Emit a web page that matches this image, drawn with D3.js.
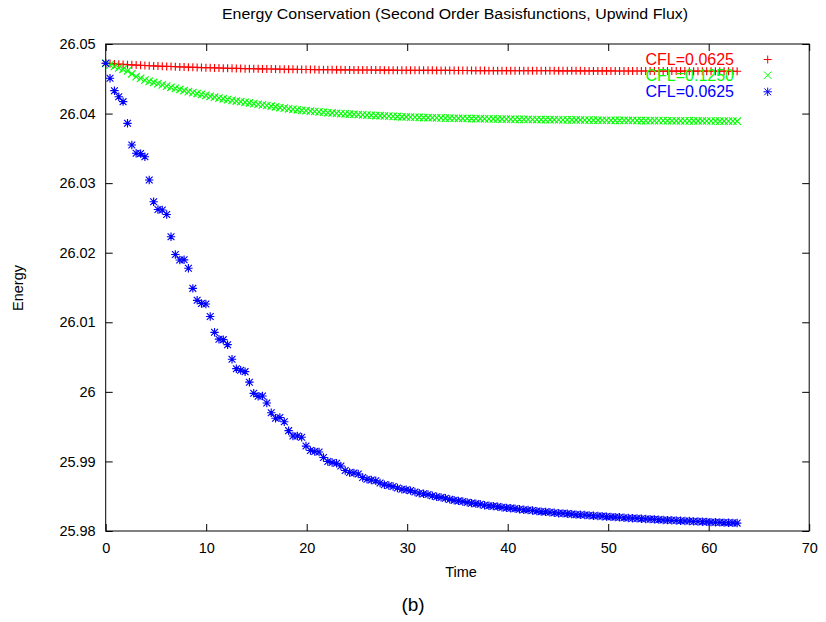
<!DOCTYPE html>
<html>
<head>
<meta charset="utf-8">
<script src="https://cdn.jsdelivr.net/npm/d3@7"></script>
<style>
  html, body { margin: 0; padding: 0; background: #fff; }
  svg { display: block; }
  text { font-family: "Liberation Sans", Arial, Helvetica, sans-serif; fill: #000; }
</style>
</head>
<body>
<svg id="chart" width="826" height="622"></svg>
<script>
// ---------------- data ----------------
const titleText = "Energy Conservation (Second Order Basisfunctions, Upwind Flux)";
const xLabel = "Time";
const yLabel = "Energy";
const caption = "(b)";

const xTicks = [0, 10, 20, 30, 40, 50, 60, 70];
const xTickLabels = ["0", "10", "20", "30", "40", "50", "60", "70"];
const yTicks = [25.98, 25.99, 26.00, 26.01, 26.02, 26.03, 26.04, 26.05];
const yTickLabels = ["25.98", "25.99", "26", "26.01", "26.02", "26.03", "26.04", "26.05"];

const seriesNames = ["CFL=0.0625", "CFL=0.1250", "CFL=0.0625"];
const seriesColors = ["#ff0000", "#00ff00", "#0000ff"];
const seriesSymbols = ["plus", "cross", "star"];

const times = [0, 0.43, 0.87, 1.3, 1.73, 2.17, 2.6, 3.03, 3.47, 3.9, 4.33, 4.77, 5.2, 5.63, 6.07, 6.5, 6.93, 7.37, 7.8, 8.23,
  8.67, 9.1, 9.53, 9.97, 10.4, 10.83, 11.27, 11.7, 12.13, 12.57, 13, 13.43, 13.87, 14.3, 14.73, 15.17, 15.6, 16.03, 16.47, 16.9,
  17.33, 17.77, 18.2, 18.63, 19.07, 19.5, 19.93, 20.37, 20.8, 21.23, 21.67, 22.1, 22.53, 22.97, 23.4, 23.83, 24.27, 24.7, 25.13, 25.57,
  26, 26.43, 26.87, 27.3, 27.73, 28.17, 28.6, 29.03, 29.47, 29.9, 30.33, 30.77, 31.2, 31.63, 32.07, 32.5, 32.93, 33.37, 33.8, 34.23,
  34.67, 35.1, 35.53, 35.97, 36.4, 36.83, 37.27, 37.7, 38.13, 38.57, 39, 39.43, 39.87, 40.3, 40.73, 41.17, 41.6, 42.03, 42.47, 42.9,
  43.33, 43.77, 44.2, 44.63, 45.07, 45.5, 45.93, 46.37, 46.8, 47.23, 47.67, 48.1, 48.53, 48.97, 49.4, 49.83, 50.27, 50.7, 51.13, 51.57,
  52, 52.43, 52.87, 53.3, 53.73, 54.17, 54.6, 55.03, 55.47, 55.9, 56.33, 56.77, 57.2, 57.63, 58.07, 58.5, 58.93, 59.37, 59.8, 60.23,
  60.67, 61.1, 61.53, 61.97, 62.4, 62.83];

const energyRed = [26.04723,
  26.04718, 26.04714, 26.0471, 26.04707, 26.04703,
  26.047, 26.04697, 26.04694, 26.04691, 26.04688,
  26.04685, 26.04683, 26.0468, 26.04678, 26.04676,
  26.04673, 26.04671, 26.04669, 26.04667, 26.04665,
  26.04663, 26.04661, 26.0466, 26.04658, 26.04656,
  26.04655, 26.04653, 26.04652, 26.0465, 26.04649,
  26.04648, 26.04646, 26.04645, 26.04644, 26.04643,
  26.04642, 26.04641, 26.0464, 26.04639, 26.04638,
  26.04637, 26.04636, 26.04636, 26.04635, 26.04634,
  26.04633, 26.04633, 26.04632, 26.04631, 26.04631,
  26.0463, 26.0463, 26.04629, 26.04629, 26.04628,
  26.04628, 26.04627, 26.04627, 26.04626, 26.04626,
  26.04626, 26.04625, 26.04625, 26.04624, 26.04624,
  26.04624, 26.04623, 26.04623, 26.04623, 26.04622,
  26.04622, 26.04622, 26.04621, 26.04621, 26.04621,
  26.0462, 26.0462, 26.0462, 26.0462, 26.04619,
  26.04619, 26.04619, 26.04619, 26.04618, 26.04618,
  26.04618, 26.04618, 26.04617, 26.04617, 26.04617,
  26.04617, 26.04617, 26.04616, 26.04616, 26.04616,
  26.04616, 26.04616, 26.04615, 26.04615, 26.04615,
  26.04615, 26.04615, 26.04615, 26.04614, 26.04614,
  26.04614, 26.04614, 26.04614, 26.04614, 26.04613,
  26.04613, 26.04613, 26.04613, 26.04613, 26.04613,
  26.04613, 26.04612, 26.04612, 26.04612, 26.04612,
  26.04612, 26.04612, 26.04612, 26.04612, 26.04611,
  26.04611, 26.04611, 26.04611, 26.04611, 26.04611,
  26.04611, 26.04611, 26.04611, 26.0461, 26.0461,
  26.0461, 26.0461, 26.0461, 26.0461, 26.0461,
  26.0461, 26.0461, 26.04609, 26.04609, 26.04609];

const energyGreen = [26.04723, 26.047, 26.04677, 26.04657, 26.04636, 26.04614, 26.04572, 26.04531, 26.04506, 26.04481,
  26.04463, 26.04447, 26.0443, 26.04412, 26.04394, 26.04378, 26.04362, 26.04347, 26.04331, 26.04316,
  26.04301, 26.04288, 26.04276, 26.04262, 26.04248, 26.04235, 26.04223, 26.04212, 26.04201, 26.0419,
  26.0418, 26.04171, 26.04162, 26.04153, 26.04143, 26.04134, 26.04125, 26.04116, 26.04106, 26.04097,
  26.04087, 26.04078, 26.04069, 26.04061, 26.04054, 26.04048, 26.04042, 26.04036, 26.0403, 26.04025,
  26.04019, 26.04014, 26.04009, 26.04004, 26.04, 26.03996, 26.03993, 26.0399, 26.03986, 26.03982,
  26.03979, 26.03976, 26.03972, 26.03969, 26.03966, 26.03963, 26.0396, 26.03957, 26.03954, 26.03951,
  26.03949, 26.03947, 26.03945, 26.03943, 26.03941, 26.0394, 26.03938, 26.03937, 26.03935, 26.03934,
  26.03933, 26.03932, 26.0393, 26.03929, 26.03928, 26.03927, 26.03926, 26.03925, 26.03924, 26.03923,
  26.03922, 26.03921, 26.0392, 26.03919, 26.03918, 26.03917, 26.03917, 26.03916, 26.03915, 26.03914,
  26.03914, 26.03913, 26.03912, 26.03912, 26.03911, 26.0391, 26.0391, 26.03909, 26.03908, 26.03908,
  26.03907, 26.03906, 26.03906, 26.03905, 26.03904, 26.03904, 26.03903, 26.03903, 26.03902, 26.03902,
  26.03901, 26.03901, 26.039, 26.039, 26.03899, 26.03899, 26.03899, 26.03898, 26.03898, 26.03897,
  26.03897, 26.03896, 26.03896, 26.03895, 26.03895, 26.03895, 26.03894, 26.03894, 26.03893, 26.03893,
  26.03893, 26.03892, 26.03892, 26.03891, 26.03891, 26.0389];

const energyBlue = [26.04723, 26.04507, 26.04329, 26.04242, 26.04171, 26.0386, 26.03548, 26.03429, 26.03425, 26.0338,
  26.03045, 26.02733, 26.02621, 26.02614, 26.02549, 26.0223, 26.01974, 26.01895, 26.01898, 26.01776,
  26.01488, 26.01316, 26.0127, 26.01263, 26.01083, 26.00856, 26.00757, 26.0075, 26.00678, 26.00469,
  26.00333, 26.0031, 26.0029, 26.00139, 25.99979, 25.99936, 25.9994, 25.9984, 25.997, 25.9962,
  25.99631, 25.99571, 25.99442, 25.99365, 25.99365, 25.99347, 25.99221, 25.99157, 25.99143, 25.99135,
  25.99056, 25.98999, 25.98985, 25.98973, 25.98934, 25.9887, 25.98841, 25.98834, 25.9882, 25.98769,
  25.98743, 25.98733, 25.98722, 25.9869, 25.98664, 25.98654, 25.9864, 25.98618, 25.98601, 25.98592,
  25.98581, 25.98561, 25.98543, 25.98535, 25.98525, 25.98506, 25.98492, 25.98483, 25.98471, 25.98454,
  25.98441, 25.98433, 25.98424, 25.98411, 25.984, 25.98393, 25.98384, 25.98371, 25.98363, 25.98357,
  25.9835, 25.9834, 25.98332, 25.98328, 25.98322, 25.98312, 25.98305, 25.98301, 25.98295, 25.98286,
  25.98279, 25.98275, 25.9827, 25.98262, 25.98256, 25.98253, 25.98249, 25.98242, 25.98236, 25.98233,
  25.9823, 25.98224, 25.98219, 25.98216, 25.98213, 25.98207, 25.98203, 25.982, 25.98197, 25.98191,
  25.98187, 25.98184, 25.98181, 25.98177, 25.98173, 25.9817, 25.98167, 25.98163, 25.98158, 25.98157,
  25.98154, 25.9815, 25.98147, 25.98144, 25.98143, 25.98138, 25.98136, 25.98134, 25.98131, 25.98128,
  25.98126, 25.98124, 25.98121, 25.98119, 25.98117, 25.98114];

const seriesValues = [energyRed, energyGreen, energyBlue];

// ---------------- drawing ----------------
const svg = d3.select("#chart");
svg.append("rect").attr("width", 826).attr("height", 622).attr("fill", "#fff");

const plotLeft = 105.7, plotRight = 809.2, plotTop = 44, plotBottom = 531;
const x = d3.scaleLinear().domain([0, 70]).range([plotLeft, plotRight]);
const y = d3.scaleLinear().domain([25.98, 26.05]).range([plotBottom, plotTop]);

const symbolPaths = {
  plus: "M-4,0H4M0,-4V4",
  cross: "M-3.7,-3.7L3.7,3.7M-3.7,3.7L3.7,-3.7",
  star: "M-4.2,0H4.2M0,-4.2V4.2M-3.4,-3.4L3.4,3.4M-3.4,3.4L3.4,-3.4"
};

// axes (gnuplot style: inward ticks, mirrored)
const tickLen = 7;
const gx = svg.append("g").attr("transform", `translate(0,${plotBottom})`)
  .call(d3.axisBottom(x).tickValues(xTicks).tickFormat((d, i) => xTickLabels[i])
    .tickSizeInner(-tickLen).tickSizeOuter(0).tickPadding(12));
const gy = svg.append("g").attr("transform", `translate(${plotLeft},0)`)
  .call(d3.axisLeft(y).tickValues(yTicks).tickFormat((d, i) => yTickLabels[i])
    .tickSizeInner(-tickLen).tickSizeOuter(0).tickPadding(10));
const gxt = svg.append("g").attr("transform", `translate(0,${plotTop})`)
  .call(d3.axisTop(x).tickValues(xTicks).tickFormat("").tickSizeInner(-tickLen).tickSizeOuter(0));
const gyr = svg.append("g").attr("transform", `translate(${plotRight},0)`)
  .call(d3.axisRight(y).tickValues(yTicks).tickFormat("").tickSizeInner(-tickLen).tickSizeOuter(0));
[gx, gy, gxt, gyr].forEach(g => {
  g.select(".domain").remove();
  g.selectAll(".tick line").attr("stroke", "#000").attr("stroke-width", 1);
  g.selectAll("text").attr("font-size", 14.5).attr("font-family", '"Liberation Sans", Arial, sans-serif').attr("fill", "#000");
});
svg.append("rect").attr("x", plotLeft).attr("y", plotTop).attr("width", plotRight - plotLeft).attr("height", plotBottom - plotTop)
  .attr("fill", "none").attr("stroke", "#000").attr("stroke-width", 1);

// title & labels
svg.append("text").attr("x", 455).attr("y", 19).attr("text-anchor", "middle")
  .attr("font-size", 14).attr("textLength", 466).attr("lengthAdjust", "spacingAndGlyphs").text(titleText);
svg.append("text").attr("x", 461).attr("y", 577).attr("text-anchor", "middle")
  .attr("font-size", 14.5).text(xLabel);
svg.append("text").attr("transform", "translate(23,288) rotate(-90)").attr("text-anchor", "middle")
  .attr("font-size", 14.5).text(yLabel);
svg.append("text").attr("x", 413).attr("y", 611).attr("text-anchor", "middle")
  .attr("font-family", '"DejaVu Serif", "Liberation Serif", serif').attr("font-size", 19).text(caption);

// series + legend (gnuplot order: key entry then data for each series)
const legendY = [65, 80.7, 97.3];
seriesValues.forEach((vals, s) => {
  const color = seriesColors[s];
  const g = svg.append("g");
  g.append("text").attr("x", 734).attr("y", legendY[s]).attr("text-anchor", "end")
    .attr("font-size", 16).style("fill", color).text(seriesNames[s]);
  g.append("path").attr("d", symbolPaths[seriesSymbols[s]])
    .attr("transform", `translate(767.7,${legendY[s] - 5.5})`)
    .attr("fill", "none").attr("stroke", color).attr("stroke-width", 1);
  g.selectAll("path.pt").data(vals).enter().append("path").attr("class", "pt")
    .attr("d", symbolPaths[seriesSymbols[s]])
    .attr("transform", (d, i) => `translate(${x(times[i])},${y(d)})`)
    .attr("fill", "none").attr("stroke", color).attr("stroke-width", 1.15);
});
</script>
</body>
</html>
